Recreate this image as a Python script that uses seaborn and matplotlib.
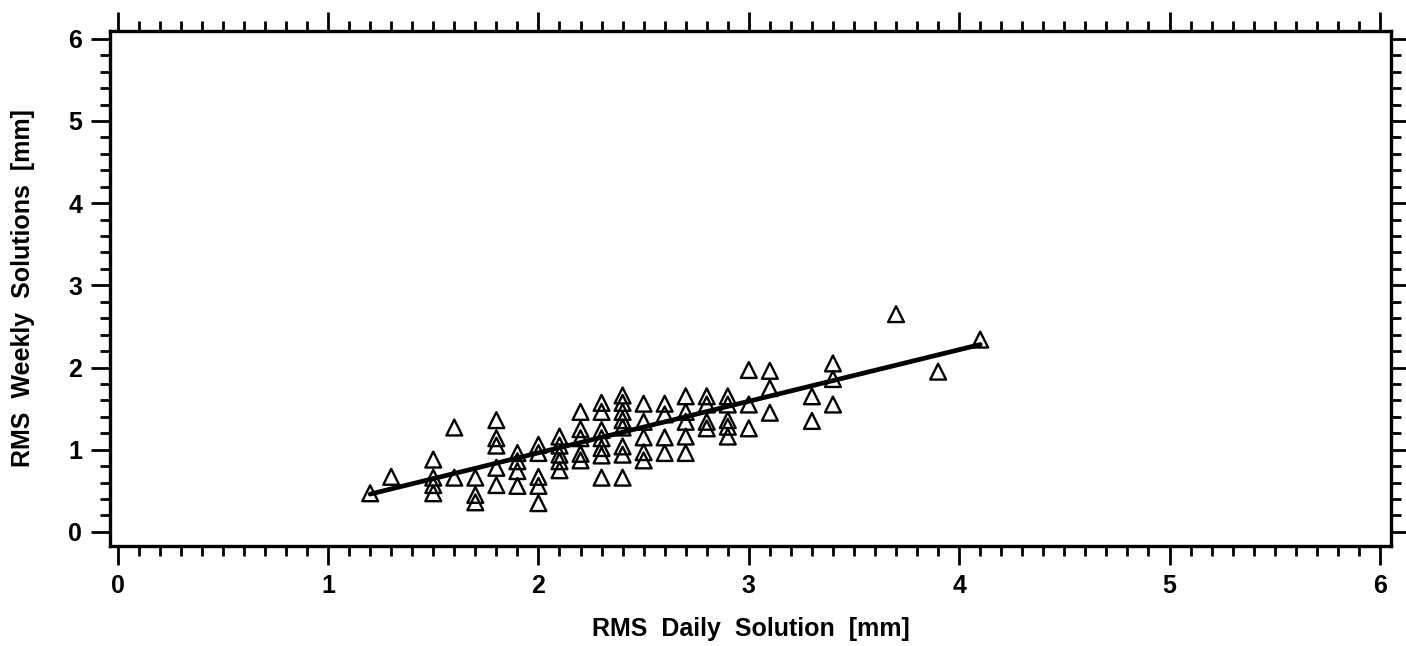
import numpy as np
import pandas as pd
import seaborn as sns
import matplotlib.pyplot as plt
from matplotlib.ticker import MultipleLocator

# RMS of daily vs weekly solutions (mm)
daily_rms = [
    1.2,
    1.3,
    1.5, 1.5, 1.5, 1.5,
    1.6, 1.6,
    1.7, 1.7, 1.7,
    1.8, 1.8, 1.8, 1.8, 1.8,
    1.9, 1.9, 1.9, 1.9,
    2.0, 2.0, 2.0, 2.0, 2.0,
    2.1, 2.1, 2.1, 2.1, 2.1,
    2.2, 2.2, 2.2, 2.2, 2.2,
    2.3, 2.3, 2.3, 2.3, 2.3, 2.3, 2.3,
    2.4, 2.4, 2.4, 2.4, 2.4, 2.4, 2.4, 2.4,
    2.5, 2.5, 2.5, 2.5, 2.5,
    2.6, 2.6, 2.6, 2.6,
    2.7, 2.7, 2.7, 2.7, 2.7,
    2.8, 2.8, 2.8, 2.8,
    2.9, 2.9, 2.9, 2.9, 2.9,
    3.0, 3.0, 3.0,
    3.1, 3.1, 3.1,
    3.3, 3.3,
    3.4, 3.4, 3.4,
    3.7,
    3.9,
    4.1,
]
weekly_rms = [
    0.47,
    0.67,
    0.88, 0.66, 0.57, 0.47,
    1.27, 0.66,
    0.66, 0.45, 0.36,
    1.36, 1.14, 1.05, 0.78, 0.57,
    0.96, 0.86, 0.74, 0.56,
    1.06, 0.96, 0.67, 0.56, 0.35,
    1.16, 1.05, 0.94, 0.86, 0.75,
    1.46, 1.25, 1.14, 0.95, 0.87,
    1.57, 1.46, 1.24, 1.14, 1.02, 0.93, 0.66,
    1.66, 1.57, 1.46, 1.36, 1.27, 1.04, 0.94, 0.66,
    1.56, 1.34, 1.15, 0.97, 0.87,
    1.56, 1.43, 1.15, 0.96,
    1.65, 1.46, 1.34, 1.16, 0.96,
    1.65, 1.55, 1.34, 1.26,
    1.65, 1.55, 1.36, 1.28, 1.16,
    1.97, 1.55, 1.26,
    1.96, 1.75, 1.45,
    1.65, 1.35,
    2.05, 1.86, 1.55,
    2.65,
    1.95,
    2.34,
]

# fitted line end points
fit_daily = [1.2, 4.1]
fit_weekly = [0.46, 2.28]

df = pd.DataFrame({"daily": daily_rms, "weekly": weekly_rms})
fit = pd.DataFrame({"daily": fit_daily, "weekly": fit_weekly})

sns.set_style("white")
plt.rcParams["font.family"] = ["Liberation Sans", "DejaVu Sans"]
plt.rcParams["text.color"] = "black"
plt.rcParams["axes.labelcolor"] = "black"
plt.rcParams["xtick.color"] = "black"
plt.rcParams["ytick.color"] = "black"

fig = plt.figure(figsize=(14.06, 6.46), dpi=100)
ax = fig.add_axes([0.0782, 0.155, 0.911, 0.797])

sns.lineplot(data=fit, x="daily", y="weekly", color="black", linewidth=3.4, ax=ax)
sns.scatterplot(
    data=df, x="daily", y="weekly",
    marker="^", s=130, facecolor="none", edgecolor="black", linewidth=1.7,
    ax=ax, zorder=3,
)

ax.set_xlim(-0.037, 6.052)
ax.set_ylim(-0.17, 6.095)

ax.xaxis.set_major_locator(MultipleLocator(1))
ax.xaxis.set_minor_locator(MultipleLocator(0.1))
ax.yaxis.set_major_locator(MultipleLocator(1))
ax.yaxis.set_minor_locator(MultipleLocator(0.2))

ax.tick_params(which="both", direction="out", top=True, right=True,
               bottom=True, left=True, color="black", width=2.0)
ax.tick_params(which="major", length=14, labelsize=18, pad=6)
ax.tick_params(which="minor", length=7)

for spine in ax.spines.values():
    spine.set_visible(True)
    spine.set_color("black")
    spine.set_linewidth(2.4)

for lbl in ax.get_xticklabels() + ax.get_yticklabels():
    lbl.set_fontweight("bold")

ax.set_xlabel("RMS  Daily  Solution  [mm]", fontsize=18, fontweight="bold", labelpad=14)
ax.set_ylabel("RMS  Weekly  Solutions  [mm]", fontsize=18, fontweight="bold", labelpad=24)

fig.savefig("out.png", dpi=100)
